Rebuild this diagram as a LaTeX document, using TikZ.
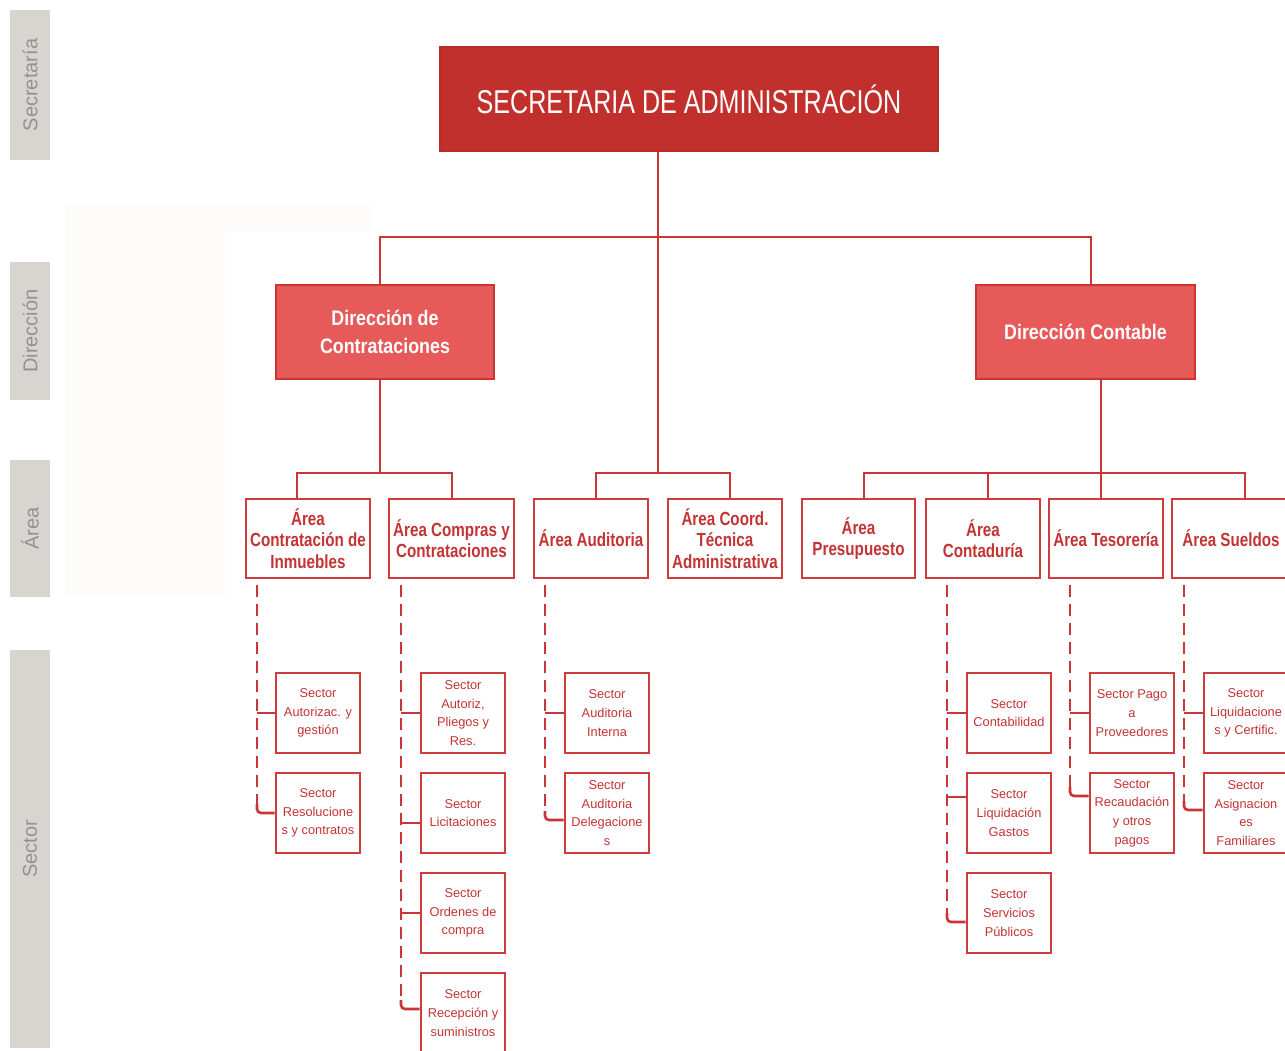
\documentclass[tikz,border=0pt]{standalone}
\usepackage{fontspec}
\setmainfont{Liberation Sans}
\newfontfamily\titlefont[FakeStretch=0.76]{Liberation Sans}
\newfontfamily\areafont[FakeStretch=0.8]{Liberation Sans}
\newfontfamily\dirfont[FakeStretch=0.85]{Liberation Sans}
\usetikzlibrary{calc}
\definecolor{topfill}{HTML}{C1302C}
\definecolor{topline}{HTML}{B82B27}
\definecolor{dirfill}{HTML}{E65A5A}
\definecolor{dirline}{HTML}{CC3333}
\definecolor{linered}{HTML}{CC3535}
\definecolor{boxred}{HTML}{D03C3C}
\definecolor{txtred}{HTML}{C43434}
\definecolor{bandgray}{HTML}{D8D5D0}
\definecolor{bandtxt}{HTML}{929292}
\definecolor{faint}{HTML}{FDFCFB}
\tikzset{
  band/.style={fill=bandgray, rotate=90, inner sep=0pt, minimum height=40pt, text=bandtxt, font=\fontsize{20}{22}\selectfont},
  topbox/.style={fill=topfill, draw=topline, line width=1.2pt, minimum width=498pt, minimum height=104pt, inner sep=0pt, text=white, font=\titlefont\fontsize{33}{36}\selectfont},
  dirbox/.style={fill=dirfill, draw=dirline, line width=2.6pt, minimum width=218pt, minimum height=94pt, inner sep=0pt, align=center, text=white, font=\dirfont\bfseries\fontsize{21}{28}\selectfont},
  areabox/.style={fill=white, draw=boxred, line width=2.6pt, minimum height=79pt, inner sep=0pt, align=center, text=txtred, font=\areafont\bfseries\fontsize{19}{21.5}\selectfont},
  secbox/.style={fill=white, draw=boxred, line width=2.6pt, minimum width=84pt, minimum height=80pt, inner sep=0pt, align=center, text=txtred, font=\fontsize{12.8}{18.7}\selectfont},
  conn/.style={draw=linered, line width=2.6pt},
  dline/.style={draw=linered, line width=2.6pt, dash pattern=on 12pt off 7pt},
  lcorner/.style={draw=linered, line width=2.6pt, rounded corners=4pt}
}
\begin{document}
\begin{tikzpicture}[x=1pt,y=-1pt]
\useasboundingbox (0,0) rectangle (1285,1050);
\clip (0,0) rectangle (1285,1050);
\fill[white] (0,0) rectangle (1285,1050);
% faint background panel
\fill[faint] (65,205) rectangle (225,597);
\fill[faint] (225,205) rectangle (370,232);

% level bands
\node[band, minimum width=150pt] (lsec) at (30,85) {Secretaría};
\node[band, minimum width=138pt] (ldir) at (30,331) {Dirección};
\node[band, minimum width=137pt] (larea) at (30,528.5) {Área};
\node[band, minimum width=398pt] (lsector) at (30,849) {Sector};

% top and direction boxes
\node[topbox] (top) at (689,99) {SECRETARIA DE ADMINISTRACIÓN};
\node[dirbox] (dirC) at (385,332) {Dirección de\\Contrataciones};
\node[dirbox, minimum width=219pt] (dirK) at (1085.5,332) {Dirección Contable};

% area boxes
\node[areabox, minimum width=124pt] (a1) at (308,538.5) {Área\\Contratación de\\Inmuebles};
\node[areabox, minimum width=125pt] (a2) at (451.5,538.5) {Área Compras y\\Contrataciones};
\node[areabox, minimum width=114pt] (a3) at (591,538.5) {Área Auditoria};
\node[areabox, minimum width=114pt] (a4) at (725,538.5) {Área Coord.\\Técnica\\Administrativa};
\node[areabox, minimum width=113pt] (a5) at (858.5,538.5) {Área\\Presupuesto};
\node[areabox, minimum width=114pt] (a6) at (983,538.5) {Área\\Contaduría};
\node[areabox, minimum width=114pt] (a7) at (1106,538.5) {Área Tesorería};
\node[areabox, minimum width=118pt] (a8) at (1231,538.5) {Área Sueldos};

% sector boxes
\node[secbox] (s11) at (318,713) {Sector\\Autorizac. y\\gestión};
\node[secbox] (s12) at (318,813) {Sector\\Resolucione\\s y contratos};
\node[secbox] (s21) at (463,713) {Sector\\Autoriz,\\Pliegos y\\Res.};
\node[secbox] (s22) at (463,813) {Sector\\Licitaciones};
\node[secbox] (s23) at (463,913) {Sector\\Ordenes de\\compra};
\node[secbox] (s24) at (463,1013) {Sector\\Recepción y\\suministros};
\node[secbox] (s31) at (607,713) {Sector\\Auditoria\\Interna};
\node[secbox] (s32) at (607,813) {Sector\\Auditoria\\Delegacione\\s};
\node[secbox] (s61) at (1009,713) {Sector\\Contabilidad};
\node[secbox] (s62) at (1009,813) {Sector\\Liquidación\\Gastos};
\node[secbox] (s63) at (1009,913) {Sector\\Servicios\\Públicos};
\node[secbox] (s71) at (1132,713) {Sector Pago\\a\\Proveedores};
\node[secbox] (s72) at (1132,813) {Sector\\Recaudación\\y otros\\pagos};
\node[secbox] (s81) at (1246,713) {Sector\\Liquidacione\\s y Certific.};
\node[secbox] (s82) at (1246,813) {Sector\\Asignacion\\es\\Familiares};

% solid connectors
\coordinate (j1) at (658,237);
\coordinate (jm) at (658,473);
\coordinate (jc) at (380,473);
\coordinate (jk) at (1101,473);
\draw[conn] (top.south -| j1) -- (jm);
\draw[conn] ([xshift=-5pt]dirC.north) |- (j1) -| ([xshift=5.5pt]dirK.north);
\draw[conn] ([xshift=-5pt]dirC.south) -- (jc);
\draw[conn] ([xshift=-11pt]a1.north) |- (jc) -| ([xshift=0.5pt]a2.north);
\draw[conn] ([xshift=5pt]a3.north) |- (jm) -| ([xshift=5pt]a4.north);
\draw[conn] (dirK.south -| jk) -- (jk);
\draw[conn] ([xshift=5.5pt]a5.north) |- (jk) -| ([xshift=14pt]a8.north);
\draw[conn] ([xshift=5pt]a6.north) -- ([xshift=5pt]a6.north |- jk);
\draw[conn] (a7.north -| jk) -- (jk);

% stub points on sector boxes
\coordinate (p11) at (s11.west);
\coordinate (p12) at (s12.west);
\coordinate (p21) at (s21.west);
\coordinate (p22) at ($(s22.west)+(0,10)$);
\coordinate (p23) at (s23.west);
\coordinate (p24) at ($(s24.west)+(0,-4)$);
\coordinate (p31) at (s31.west);
\coordinate (p32) at ($(s32.west)+(0,7)$);
\coordinate (p61) at (s61.west);
\coordinate (p62) at ($(s62.west)+(0,-16)$);
\coordinate (p63) at ($(s63.west)+(0,9)$);
\coordinate (p71) at (s71.west);
\coordinate (p72) at ($(s72.west)+(0,-17)$);
\coordinate (p81) at (s81.west);
\coordinate (p82) at ($(s82.west)+(0,-3)$);

% dashed feeders
\coordinate (d1) at (257,585);
\coordinate (d2) at (401,585);
\coordinate (d3) at (545,585);
\coordinate (d6) at (947,585);
\coordinate (d7) at (1070,585);
\coordinate (d8) at (1184,585);

\draw[dline] (d1) -- ($(d1 |- p12)+(0,-9)$);
\draw[conn] (d1 |- p11) -- (p11);
\draw[lcorner] ($(d1 |- p12)+(0,-9)$) -- (d1 |- p12) -- (p12);

\draw[dline] (d2) -- ($(d2 |- p24)+(0,-9)$);
\draw[conn] (d2 |- p21) -- (p21);
\draw[conn] (d2 |- p22) -- (p22);
\draw[conn] (d2 |- p23) -- (p23);
\draw[lcorner] ($(d2 |- p24)+(0,-9)$) -- (d2 |- p24) -- (p24);

\draw[dline] (d3) -- ($(d3 |- p32)+(0,-9)$);
\draw[conn] (d3 |- p31) -- (p31);
\draw[lcorner] ($(d3 |- p32)+(0,-9)$) -- (d3 |- p32) -- (p32);

\draw[dline] (d6) -- ($(d6 |- p63)+(0,-9)$);
\draw[conn] (d6 |- p61) -- (p61);
\draw[conn] (d6 |- p62) -- (p62);
\draw[lcorner] ($(d6 |- p63)+(0,-9)$) -- (d6 |- p63) -- (p63);

\draw[dline] (d7) -- ($(d7 |- p72)+(0,-9)$);
\draw[conn] (d7 |- p71) -- (p71);
\draw[lcorner] ($(d7 |- p72)+(0,-9)$) -- (d7 |- p72) -- (p72);

\draw[dline] (d8) -- ($(d8 |- p82)+(0,-9)$);
\draw[conn] (d8 |- p81) -- (p81);
\draw[lcorner] ($(d8 |- p82)+(0,-9)$) -- (d8 |- p82) -- (p82);
\end{tikzpicture}
\end{document}
